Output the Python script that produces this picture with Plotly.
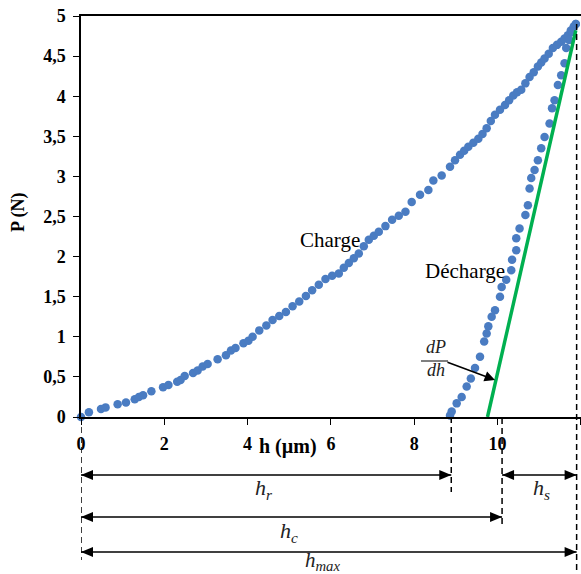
import plotly.graph_objects as go

# ---- data ----
charge_h = [0, 0.19, 0.48, 0.59, 0.88, 1.08, 1.29, 1.39, 1.49, 1.69, 1.97, 2.10, 2.31, 2.39, 2.49,
            2.69, 2.80, 2.92, 3.04, 3.28, 3.48, 3.60, 3.71, 3.90, 4.02, 4.12, 4.28, 4.45, 4.60, 4.76,
            4.92, 5.08, 5.24, 5.40, 5.55, 5.71, 5.87, 6.03, 6.19, 6.31, 6.43, 6.55, 6.67, 6.79, 6.91,
            7.03, 7.15, 7.31, 7.47, 7.63, 7.79, 7.94, 8.14, 8.34, 8.46, 8.66, 8.86, 8.98, 9.10, 9.20,
            9.30, 9.42, 9.54, 9.64, 9.74, 9.84, 9.94, 10.06, 10.18, 10.28, 10.38, 10.47, 10.57, 10.67,
            10.77, 10.87, 10.97, 11.05, 11.13, 11.23, 11.33, 11.43, 11.53, 11.61, 11.69, 11.76, 11.83, 11.88]
charge_P = [0, 0.06, 0.10, 0.12, 0.16, 0.18, 0.22, 0.25, 0.27, 0.32, 0.37, 0.40, 0.44, 0.46, 0.51,
            0.55, 0.58, 0.63, 0.66, 0.72, 0.77, 0.83, 0.86, 0.92, 0.95, 1.00, 1.08, 1.14, 1.21, 1.26,
            1.31, 1.38, 1.44, 1.51, 1.58, 1.65, 1.72, 1.76, 1.79, 1.86, 1.92, 1.98, 2.04, 2.13, 2.21,
            2.26, 2.31, 2.38, 2.46, 2.51, 2.56, 2.68, 2.77, 2.83, 2.95, 3.01, 3.12, 3.20, 3.27, 3.32,
            3.37, 3.42, 3.47, 3.53, 3.60, 3.69, 3.77, 3.83, 3.89, 3.95, 4.01, 4.05, 4.08, 4.16,
            4.24, 4.30, 4.37, 4.42, 4.47, 4.53, 4.60, 4.64, 4.68, 4.72, 4.76, 4.82, 4.87, 4.90]

decharge_h = [11.88, 11.80, 11.72, 11.65, 11.61, 11.53, 11.45, 11.37, 11.31, 11.25, 11.13, 11.05,
              10.97, 10.89, 10.81, 10.77, 10.73, 10.67, 10.53, 10.45, 10.45, 10.35, 10.33, 10.21,
              10.10, 10.06, 9.94, 9.86, 9.78, 9.74, 9.68, 9.58, 9.46, 9.36, 9.26, 9.14, 9.02, 8.90, 8.86]
decharge_P = [4.90, 4.80, 4.70, 4.60, 4.41, 4.26, 4.14, 3.95, 3.85, 3.66, 3.49, 3.35,
              3.20, 3.08, 2.98, 2.85, 2.64, 2.52, 2.35, 2.23, 2.08, 1.96, 1.83, 1.71,
              1.62, 1.50, 1.33, 1.25, 1.13, 1.04, 0.94, 0.75, 0.61, 0.48, 0.38, 0.25, 0.17, 0.07, 0.02]

tangent_h = [9.76, 11.88]
tangent_P = [0.0, 4.82]

h_r = 8.89
h_c = 10.11
h_max = 11.9

x_ticks = [0, 2, 4, 6, 8, 10, 12]
x_ticklabels = ["0", "2", "4", "6", "8", "10", "12"]
y_ticks = [0, 0.5, 1, 1.5, 2, 2.5, 3, 3.5, 4, 4.5, 5]
y_ticklabels = ["0", "0,5", "1", "1,5", "2", "2,5", "3", "3,5", "4", "4,5", "5"]

BLUE = "#4A7CC2"
GREEN = "#00B050"
SERIF = "Liberation Serif"

W, H = 581, 574
L, R, T, B = 81, 0, 16, 157
ph = H - T - B
pw = W - L - R
Y_MAX = 5.0
X_MAX = 12.005


def py(pix):
    """pixel row -> paper y"""
    return (H - B - pix) / ph


def px(pix):
    """pixel column -> paper x"""
    return (pix - L) / pw


fig = go.Figure()
fig.add_trace(go.Scatter(x=charge_h, y=charge_P, mode="markers",
                         marker=dict(color=BLUE, size=8.5), cliponaxis=False, showlegend=False))
fig.add_trace(go.Scatter(x=decharge_h, y=decharge_P, mode="markers",
                         marker=dict(color=BLUE, size=8.5), cliponaxis=False, showlegend=False))
fig.add_trace(go.Scatter(x=tangent_h, y=tangent_P, mode="lines",
                         line=dict(color=GREEN, width=3.5), showlegend=False))

# dimension arrows: (start, end, pixel row)
dims = [(0, h_r, 475), (h_c, h_max, 475), (0, h_c, 517), (0, h_max, 552)]

DASH = "6px,4px"
shapes = []
# dashed vertical guide lines
for xv, y0, y1 in [(0, 427, 560), (h_r, 417, 492), (h_c, 418, 527), (h_max, 24, 574)]:
    shapes.append(dict(type="line", xref="x", yref="paper", x0=xv, x1=xv, y0=py(y0), y1=py(y1),
                       line=dict(color="black", width=1.5, dash=DASH)))
# arrow shafts and heads
for x0, x1, yy in dims:
    shapes.append(dict(type="line", xref="x", yref="paper", x0=x0, x1=x1, y0=py(yy), y1=py(yy),
                       line=dict(color="black", width=1.6)))
    shapes.append(dict(type="path", xref="x", yref="paper", xsizemode="pixel", ysizemode="pixel",
                       xanchor=x0, yanchor=py(yy), path="M0,0 L12,5 L12,-5 Z",
                       fillcolor="black", line=dict(width=0)))
    shapes.append(dict(type="path", xref="x", yref="paper", xsizemode="pixel", ysizemode="pixel",
                       xanchor=x1, yanchor=py(yy), path="M0,0 L-12,5 L-12,-5 Z",
                       fillcolor="black", line=dict(width=0)))
# dP/dh fraction bar
shapes.append(dict(type="line", xref="paper", yref="paper", x0=px(421), x1=px(448),
                   y0=py(361), y1=py(361), line=dict(color="black", width=1)))
fig.update_layout(shapes=shapes)

ann = []
lab_font = dict(family=SERIF, size=22, color="#222")
common = dict(showarrow=False, xanchor="center", yanchor="middle")
ann.append(dict(x=h_r / 2 - 0.05, y=py(489), xref="x", yref="paper", text="<i>h<sub>r</sub></i>",
                font=lab_font, **common))
ann.append(dict(x=(h_c + h_max) / 2 + 0.05, y=py(489), xref="x", yref="paper", text="<i>h<sub>s</sub></i>",
                font=lab_font, **common))
ann.append(dict(x=h_c / 2 - 0.05, y=py(532), xref="x", yref="paper", text="<i>h<sub>c</sub></i>",
                font=lab_font, **common))
ann.append(dict(x=h_max / 2 - 0.15, y=py(561), xref="x", yref="paper", text="<i>h<sub>max</sub></i>",
                font=dict(family=SERIF, size=21, color="#222"), **common))
# axis titles
ann.append(dict(x=px(288), y=py(446), xref="paper", yref="paper", text="h (µm)",
                font=dict(family=SERIF, size=20, color="black", weight="bold"), **common))
ann.append(dict(x=px(18), y=py(212), xref="paper", yref="paper", text="P (N)", textangle=-90,
                font=dict(family=SERIF, size=18, color="black", weight="bold"), **common))
# curve labels
ann.append(dict(x=px(330), y=py(240), xref="paper", yref="paper", text="Charge",
                font=dict(family=SERIF, size=21, color="black"), **common))
ann.append(dict(x=px(465), y=py(271), xref="paper", yref="paper", text="Décharge",
                font=dict(family=SERIF, size=21, color="black"), **common))
# dP/dh with arrow
ann.append(dict(x=px(495), y=py(380), xref="paper", yref="paper",
                ax=436 - 495, ay=358 - 380, axref="pixel", ayref="pixel",
                text="<i>dP</i><br><i>dh</i>", showarrow=True, arrowhead=2, arrowsize=1.3,
                arrowwidth=1.6, arrowcolor="black", standoff=0,
                font=dict(family=SERIF, size=18, color="#222")))
fig.update_layout(annotations=ann)

fig.update_layout(
    template="none",
    width=W, height=H,
    margin=dict(l=L, r=R, t=T, b=B, pad=0),
    plot_bgcolor="white", paper_bgcolor="white",
    xaxis=dict(range=[0, X_MAX], tickvals=x_ticks, ticktext=x_ticklabels, showgrid=False, zeroline=False,
               showline=True, linecolor="black", linewidth=1.5, mirror=True, ticks="outside", ticklen=6,
               tickcolor="black", tickwidth=1.2, automargin=False, ticklabelstandoff=4,
               tickfont=dict(family=SERIF, size=18, color="black", weight="bold")),
    yaxis=dict(range=[0, Y_MAX], tickvals=y_ticks, ticktext=y_ticklabels, showgrid=False, zeroline=False,
               showline=True, linecolor="black", linewidth=1.5, ticks="outside", ticklen=6,
               tickcolor="black", tickwidth=1.2, automargin=False, ticklabelstandoff=4,
               tickfont=dict(family=SERIF, size=18, color="black", weight="bold")),
)

fig.write_html("out.html", config={"displayModeBar": False},
               post_script="document.body.style.margin='0';document.body.style.overflow='hidden';")
